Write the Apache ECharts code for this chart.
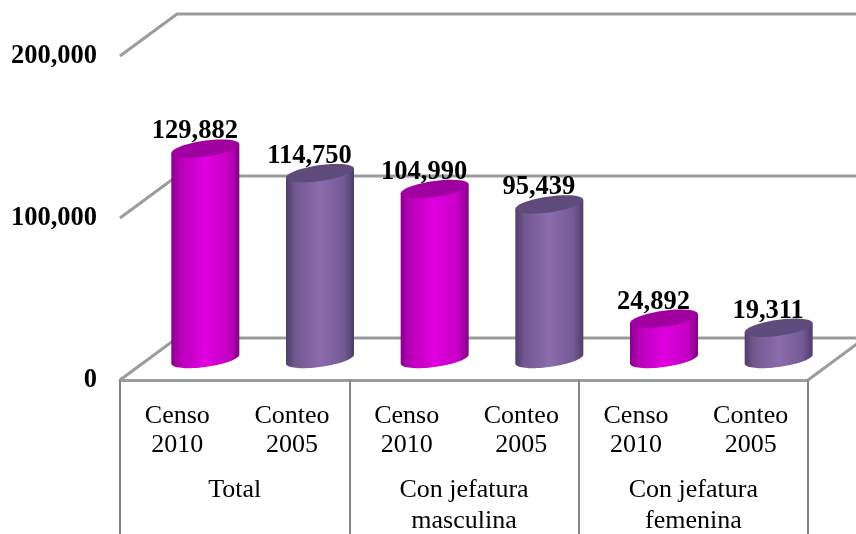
<!DOCTYPE html>
<html>
<head>
<meta charset="utf-8">
<style>html,body{margin:0;padding:0;background:#fff}#c{width:856px;height:534px}</style>
<script src="https://cdn.jsdelivr.net/npm/echarts@6/dist/echarts.min.js"></script>
</head>
<body>
<div id="c"></div>
<script>
var categories = ["Censo\n2010","Conteo\n2005","Censo\n2010","Conteo\n2005","Censo\n2010","Conteo\n2005"];
var groups = ["Total","Con jefatura\nmasculina","Con jefatura\nfemenina"];
var values = [129882,114750,104990,95439,24892,19311];
var yTicks = [0,100000,200000];

var FONT = '"Liberation Serif","Times New Roman",serif';
var DX = 57, DY = 42;            // oblique depth of the 3D box
var GRAY = '#9c9c9c';
var offsets = [0,0.13,0.5,0.85,1];
var palettes = [
  {stops:['#880088','#b800b8','#e000e0','#c400c4','#840084'], top:'#a000a0'},
  {stops:['#4e3d68','#71578f','#8b6bad','#745a94','#4e3d68'], top:'#5f4a7c'}
];

function ell(cx, cy, ry, a, b){
  var pts = [];
  for (var k = 0; k <= 36; k++){
    var t = a + (b - a) * k / 36;
    pts.push([cx + 34 * Math.cos(t), cy + ry * Math.sin(t) - 4.5 * Math.cos(t)]);
  }
  return pts;
}

var chart = echarts.init(document.getElementById('c'), null, {renderer:'canvas'});
chart.setOption({
  animation:false,
  backgroundColor:'#fff',
  grid:{left:120, top:56, width:688, height:324, containLabel:false, outerBoundsMode:'none'},
  xAxis:[
    {type:'category', data:categories, position:'bottom',
     axisLine:{show:true, lineStyle:{color:GRAY, width:3}},
     axisTick:{show:false},
     axisLabel:{interval:0, color:'#000', fontFamily:FONT, fontSize:26, lineHeight:29, margin:22}},
    {type:'category', data:groups, position:'bottom',
     axisLine:{show:false},
     axisTick:{show:true, length:154, lineStyle:{color:'#868686', width:2}},
     axisLabel:{interval:0, color:'#000', fontFamily:FONT, fontSize:26, lineHeight:31, margin:95}}
  ],
  yAxis:{type:'value', min:0, max:200000, interval:100000,
    axisLine:{show:false}, axisTick:{show:false}, splitLine:{show:false},
    axisLabel:{color:'#000', fontFamily:FONT, fontSize:26.5, fontWeight:'bold', margin:23,
      padding:[4,0,0,0],
      formatter:function(v){return v.toLocaleString('en-US');}}},
  series:[
    {type:'custom', name:'walls', data:yTicks, silent:true, z:1, clip:false,
     encode:{y:0},
     renderItem:function(p, api){
       var c = api.coord([0, api.value(0)]);
       var x0 = p.coordSys.x, x1 = x0 + p.coordSys.width;
       var y = c[1];
       var kids = [{type:'polyline', shape:{points:[[x0,y],[x0+DX,y-DY],[856,y-DY]]},
         style:{fill:null, stroke:GRAY, lineWidth:3}}];
       if (api.value(0) === 0) kids.push({type:'line', shape:{x1:x1,y1:y,x2:x1+DX,y2:y-DY},
         style:{stroke:GRAY, lineWidth:3}});
       return {type:'group', children:kids};
     }},
    {type:'custom', name:'bars', data:values.map(function(v,i){return [i,v];}), silent:true, z:2, clip:false,
     encode:{x:0,y:1},
     renderItem:function(p, api){
       var i = api.value(0), v = api.value(1);
       var base = api.coord([i,0]), top = api.coord([i,v]);
       var cx = base[0] + DX/2 - 0.5, by = base[1] - DY/2, ty = top[1] - DY/2;
       var pal = palettes[i % 2];
       var body = ell(cx, by, 8, 0, Math.PI).concat([[cx-34, ty+4.5],[cx+34, ty-4.5]]);
       return {type:'group', children:[
         {type:'polygon', shape:{points:body},
          style:{fill:new echarts.graphic.LinearGradient(0,0,1,0,pal.stops.map(function(c,k){return {offset:offsets[k],color:c};}))}},
         {type:'polygon', shape:{points:ell(cx, ty, 8, 0, Math.PI*2)}, style:{fill:pal.top}}
       ]};
     }},
    {type:'custom', name:'labels', data:values.map(function(v,i){return [i,v];}), silent:true, z:3, clip:false,
     encode:{x:0,y:1},
     renderItem:function(p, api){
       var i = api.value(0), v = api.value(1);
       var top = api.coord([i,v]);
       return {type:'text', x:top[0] + DX/2 - 11, y:top[1] - DY/2 - 17,
         style:{text:v.toLocaleString('en-US'), font:'bold 26.5px '+FONT, fill:'#000', align:'center', verticalAlign:'middle'}};
     }}
  ]
});
</script>
</body>
</html>
